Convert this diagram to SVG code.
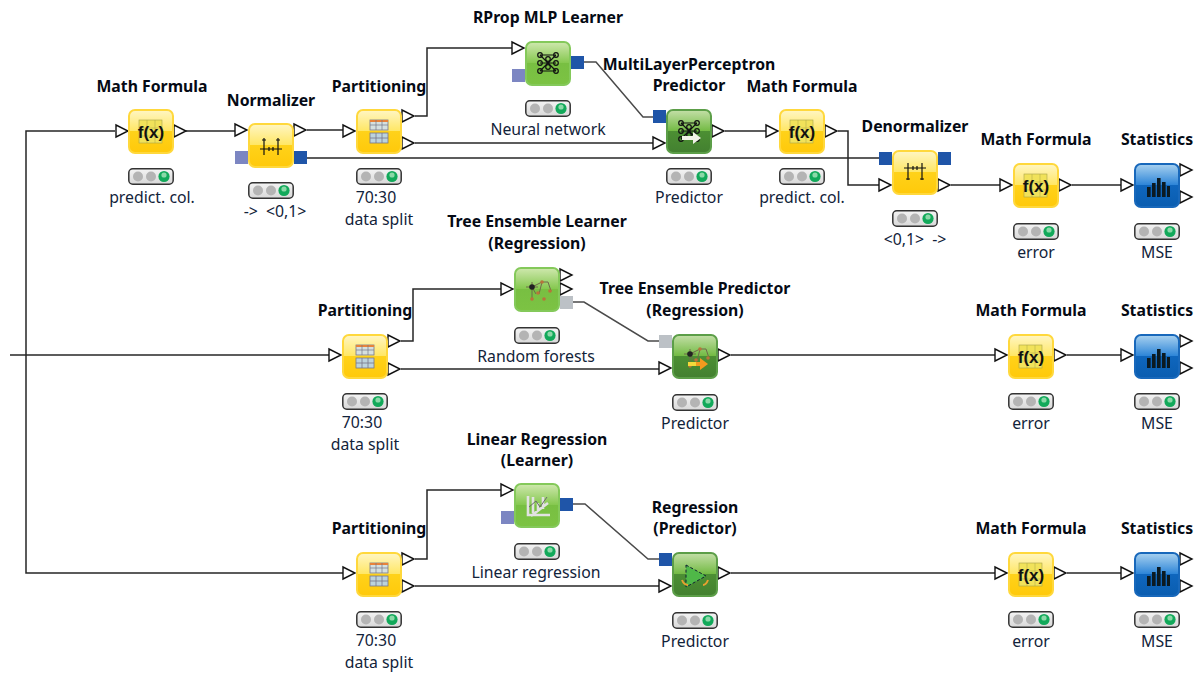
<svg xmlns="http://www.w3.org/2000/svg" width="1194" height="674" viewBox="0 0 1194 674">
<style>
text{font-family:"Noto Sans","Open Sans","Liberation Sans",sans-serif;text-anchor:middle;fill:#0c1420;font-size:15.8px}
.t{font-weight:700;font-size:15.8px;fill:#050a14}
.l{fill:#12233a}
#connectors path{fill:none;stroke:#262626;stroke-width:1.5}
#connectors path.s{stroke:#4a4a4a}
.p{fill:#fff;stroke:#111;stroke-width:1.4}
.lil{fill:#7c86c2}.blu{fill:#1f55a8}.gry{fill:#bcc1c6}
.ic{fill:none;stroke:#111;stroke-width:1.2}
</style>
<defs>
<linearGradient id="gy" x1="0" y1="0" x2="0" y2="1"><stop offset="0" stop-color="#fff6c4"/><stop offset=".48" stop-color="#ffe766"/><stop offset=".5" stop-color="#ffd21a"/><stop offset="1" stop-color="#ffc90a"/></linearGradient>
<linearGradient id="gg" x1="0" y1="0" x2="0" y2="1"><stop offset="0" stop-color="#cfe8ae"/><stop offset=".48" stop-color="#86c850"/><stop offset=".5" stop-color="#78bf42"/><stop offset="1" stop-color="#7cc343"/></linearGradient>
<linearGradient id="gd" x1="0" y1="0" x2="0" y2="1"><stop offset="0" stop-color="#c4dfa8"/><stop offset=".48" stop-color="#74bb45"/><stop offset=".5" stop-color="#4c8f33"/><stop offset="1" stop-color="#438030"/></linearGradient>
<linearGradient id="gb" x1="0" y1="0" x2="0" y2="1"><stop offset="0" stop-color="#a9d2f0"/><stop offset=".48" stop-color="#2f86d8"/><stop offset=".5" stop-color="#0f66bd"/><stop offset="1" stop-color="#0a5db0"/></linearGradient>
<linearGradient id="gl" x1="0" y1="0" x2="0" y2="1"><stop offset="0" stop-color="#f4f4f4"/><stop offset="1" stop-color="#d8d8d8"/></linearGradient>
<g id="by"><rect x="1" y="1" width="44" height="43" rx="6" fill="url(#gy)" stroke="#ffd83c" stroke-width="2"/></g>
<g id="bg"><rect x="1" y="1" width="44" height="43" rx="6" fill="url(#gg)" stroke="#84c95a" stroke-width="2"/></g>
<g id="bd"><rect x="1" y="1" width="44" height="43" rx="6" fill="url(#gd)" stroke="#5c9e48" stroke-width="2"/></g>
<g id="bb"><rect x="1" y="1" width="44" height="43" rx="6" fill="url(#gb)" stroke="#1868bb" stroke-width="2"/></g>
<g id="in"><path class="p" d="M0,-6V6L12,0Z"/></g>
<g id="lt"><rect x=".8" y=".8" width="44.4" height="15.4" rx="4" fill="url(#gl)" stroke="#333" stroke-width="1.5"/><circle cx="10" cy="8.5" r="5" fill="#b4b4b4"/><circle cx="23" cy="8.5" r="5" fill="#b4b4b4"/><circle cx="36" cy="8.5" r="5.6" fill="#12a95a"/><circle cx="36" cy="7" r="2.6" fill="#8bd9a8"/></g>
<g id="ifx"><rect x="11" y="11" width="23" height="23" fill="#f1e25a" stroke="#a9a44a" stroke-width=".6"/><path d="M19,11V34M27,11V34M11,19H34M11,27H34" stroke="#a9a44a" stroke-width=".5" fill="none"/><text x="23" y="29" style="font-family:'Liberation Sans',sans-serif;font-weight:700;font-size:17px;fill:#111">f(x)</text></g>
<g id="ipart"><rect x="14" y="11" width="18" height="10" fill="#d5e0e0" stroke="#778" stroke-width=".8"/><rect x="14" y="11" width="18" height="2" fill="#e8823a"/><path d="M20,11V21M26,11V21M14,16H32" stroke="#778" stroke-width=".7"/><rect x="14" y="24" width="18" height="10" fill="#bcd3dc" stroke="#778" stroke-width=".8"/><path d="M20,24V34M26,24V34M14,29H32" stroke="#778" stroke-width=".8"/></g>
<g id="inorm"><path class="ic" d="M12,26H34M16,21V32M30,21V32M21,24V28M25,24V28M16,21M30,21"/><path d="M14,17H18M28,17H32M16,15V21M30,15V21" class="ic"/></g>
<g id="idenorm"><path class="ic" d="M12,18H34M16,13V24M30,13V24M21,16V20M25,16V20"/><path d="M14,29H18M28,29H32M16,24V30M30,24V30" class="ic"/></g>
<g id="inn"><path class="ic" d="M15,14L31,14M15,14L23,22L31,14M15,22H31M15,30L23,22L31,30M15,30H31M15,14L31,30M15,30L31,14"/><g fill="none" stroke="#111" stroke-width="1.2"><circle cx="15" cy="14" r="2.3"/><circle cx="15" cy="22" r="2.3"/><circle cx="15" cy="30" r="2.3"/><circle cx="31" cy="14" r="2.3"/><circle cx="31" cy="22" r="2.3"/><circle cx="31" cy="30" r="2.3"/><circle cx="23" cy="18" r="2.3"/><circle cx="23" cy="26" r="2.3"/></g></g>
<g id="itree"><path d="M18,15V33M12,20H24M18,20L28,15H34L37,24M28,15L25,27M18,20L22,27" fill="none" stroke="#6f6a4a" stroke-width="1"/><circle cx="18" cy="20" r="2.8" fill="#222"/><circle cx="28" cy="15" r="1.8" fill="#b8743a"/><circle cx="36" cy="24" r="1.8" fill="#b8743a"/><circle cx="24" cy="26" r="1.8" fill="#b8743a"/><circle cx="18" cy="32" r="1.8" fill="#b8743a"/><circle cx="30" cy="32" r="1.8" fill="#b8743a"/></g>
<g id="ilin"><path d="M14,13V32H36M17,33L34,20M19,14V30M24,20V29M29,14V26" fill="none" stroke="#e2e2e2" stroke-width="2.6"/><path d="M15,24L22,18L26,24L33,14" fill="none" stroke="#6a6a6a" stroke-width="1"/></g>
<g id="ireg"><path d="M14,13L34,24L14,35Z" fill="#4fb848" stroke="#123" stroke-width="1" stroke-dasharray="3 2"/><path d="M10,28Q12,33 16,33M36,28Q34,33 31,33" fill="none" stroke="#e8a030" stroke-width="2"/></g>
<g id="istat"><rect x="13" y="24" width="3.6" height="10" fill="#0b1a22"/><rect x="18" y="20" width="3.6" height="14" fill="#0b1a22"/><rect x="23" y="15" width="3.6" height="19" fill="#0b1a22"/><rect x="28" y="19" width="3.6" height="15" fill="#0b1a22"/><rect x="33" y="23" width="3" height="11" fill="#0b1a22"/></g>
<g id="n-arr"><path d="M16,27H27V23L35,29L27,35V31H16Z" fill="#f2f2e8"/></g>
<g id="o-arr"><path d="M16,28H28V24L36,30L28,36V32H16Z" fill="#f39a1e"/><path d="M16,28H24V32H16Z" fill="#f4d93a"/></g>
</defs>

<g id="connectors">
<path d="M115,131H26V573H343"/>
<path d="M10,355H329"/>
<path d="M186,131H235"/><path d="M307,130H343"/>
<path d="M415,116H427V48H512"/><path d="M415,143H653"/>
<path d="M307,158H880"/>
<path class="s" d="M584,62H596L643,117H653"/>
<path d="M725,131H766"/>
<path d="M838,131H848V185H879"/>
<path d="M951,185H1000"/><path d="M1072,185H1121"/>
<path d="M401,341H413V289H501"/><path d="M401,369H659"/>
<path class="s" d="M572,302H584L648,341H659"/>
<path d="M731,355H995"/><path d="M1067,355H1121"/>
<path d="M415,559H427V490H501"/><path d="M415,586H659"/>
<path class="s" d="M573,504H585L648,559H659"/>
<path d="M731,573H995"/><path d="M1067,573H1121"/>
</g>

<g id="math1"><use href="#in" x="116" y="131"/><use href="#in" x="174" y="131"/><use href="#by" x="128" y="109"/><use href="#ifx" x="128" y="109"/><use href="#lt" x="128" y="168"/><text class="t" x="152" y="92">Math Formula</text><text class="l" x="152" y="203">predict. col.</text></g>
<g id="normalizer"><use href="#in" x="235" y="130"/><use href="#in" x="294" y="130"/><rect class="lil" x="235" y="151" width="13" height="13"/><rect class="blu" x="294" y="151" width="13" height="13"/><use href="#by" x="248" y="123"/><use href="#inorm" x="248" y="123"/><use href="#lt" x="248" y="182"/><text class="t" x="271" y="106">Normalizer</text><text class="l" x="275" y="217" xml:space="preserve">-&gt;  &lt;0,1&gt;</text></g>
<g id="part1"><use href="#in" x="343" y="131"/><use href="#in" x="402" y="116"/><use href="#in" x="402" y="143"/><use href="#by" x="356" y="109"/><use href="#ipart" x="356" y="109"/><use href="#lt" x="356" y="168"/><text class="t" x="379" y="92">Partitioning</text><text class="l" x="376" y="203">70:30</text><text class="l" x="379" y="225">data split</text></g>
<g id="mlp-learner"><use href="#in" x="512" y="48"/><rect class="lil" x="512" y="69" width="13" height="13"/><rect class="blu" x="571" y="56" width="13" height="13"/><use href="#bg" x="525" y="41"/><use href="#inn" x="525" y="41"/><use href="#lt" x="525" y="100"/><text class="t" x="548" y="23">RProp MLP Learner</text><text class="l" x="548" y="135">Neural network</text></g>
<g id="mlp-predictor"><rect class="blu" x="653" y="110" width="13" height="13"/><use href="#in" x="653" y="143"/><use href="#in" x="712" y="131"/><use href="#bd" x="666" y="109"/><use href="#inn" x="666" y="109"/><use href="#n-arr" x="666" y="109"/><use href="#lt" x="666" y="168"/><text class="t" x="689" y="70">MultiLayerPerceptron</text><text class="t" x="689" y="91">Predictor</text><text class="l" x="689" y="203">Predictor</text></g>
<g id="math2"><use href="#in" x="766" y="131"/><use href="#in" x="825" y="131"/><use href="#by" x="779" y="109"/><use href="#ifx" x="779" y="109"/><use href="#lt" x="779" y="168"/><text class="t" x="802" y="92">Math Formula</text><text class="l" x="802" y="203">predict. col.</text></g>
<g id="denormalizer"><rect class="blu" x="879" y="152" width="13" height="13"/><use href="#in" x="879" y="185"/><rect class="blu" x="938" y="152" width="13" height="13"/><use href="#in" x="938" y="185"/><use href="#by" x="892" y="150"/><use href="#idenorm" x="892" y="150"/><use href="#lt" x="892" y="210"/><text class="t" x="915" y="132">Denormalizer</text><text class="l" x="915" y="245" xml:space="preserve">&lt;0,1&gt;  -&gt;</text></g>
<g id="math3"><use href="#in" x="1000" y="185"/><use href="#in" x="1059" y="185"/><use href="#by" x="1013" y="163"/><use href="#ifx" x="1013" y="163"/><use href="#lt" x="1013" y="223"/><text class="t" x="1036" y="145">Math Formula</text><text class="l" x="1036" y="258">error</text></g>
<g id="stats1"><use href="#in" x="1121" y="185"/><use href="#in" x="1180" y="170"/><use href="#in" x="1180" y="197"/><use href="#bb" x="1134" y="163"/><use href="#istat" x="1134" y="163"/><use href="#lt" x="1134" y="223"/><text class="t" x="1157" y="145">Statistics</text><text class="l" x="1157" y="258">MSE</text></g>

<g id="part2"><use href="#in" x="329" y="355"/><use href="#in" x="388" y="341"/><use href="#in" x="388" y="369"/><use href="#by" x="342" y="334"/><use href="#ipart" x="342" y="334"/><use href="#lt" x="342" y="393"/><text class="t" x="365" y="316">Partitioning</text><text class="l" x="362" y="428">70:30</text><text class="l" x="365" y="450">data split</text></g>
<g id="tree-learner"><use href="#in" x="501" y="289"/><use href="#in" x="560" y="275"/><use href="#in" x="560" y="289"/><rect class="gry" x="560" y="296" width="13" height="13"/><use href="#bg" x="514" y="267"/><use href="#itree" x="514" y="267"/><use href="#lt" x="514" y="327"/><text class="t" x="537" y="227">Tree Ensemble Learner</text><text class="t" x="537" y="249">(Regression)</text><text class="l" x="536" y="362">Random forests</text></g>
<g id="tree-predictor"><rect class="gry" x="659" y="335" width="13" height="13"/><use href="#in" x="659" y="368"/><use href="#in" x="718" y="355"/><use href="#bd" x="672" y="334"/><use href="#itree" x="672" y="334"/><use href="#o-arr" x="672" y="334"/><use href="#lt" x="672" y="394"/><text class="t" x="695" y="294">Tree Ensemble Predictor</text><text class="t" x="695" y="316">(Regression)</text><text class="l" x="695" y="429">Predictor</text></g>
<g id="math4"><use href="#in" x="995" y="355"/><use href="#in" x="1054" y="355"/><use href="#by" x="1008" y="334"/><use href="#ifx" x="1008" y="334"/><use href="#lt" x="1008" y="393"/><text class="t" x="1031" y="316">Math Formula</text><text class="l" x="1031" y="429">error</text></g>
<g id="stats2"><use href="#in" x="1121" y="355"/><use href="#in" x="1180" y="341"/><use href="#in" x="1180" y="368"/><use href="#bb" x="1134" y="334"/><use href="#istat" x="1134" y="334"/><use href="#lt" x="1134" y="393"/><text class="t" x="1157" y="316">Statistics</text><text class="l" x="1157" y="429">MSE</text></g>

<g id="part3"><use href="#in" x="343" y="573"/><use href="#in" x="402" y="559"/><use href="#in" x="402" y="586"/><use href="#by" x="356" y="552"/><use href="#ipart" x="356" y="552"/><use href="#lt" x="356" y="611"/><text class="t" x="379" y="534">Partitioning</text><text class="l" x="376" y="646">70:30</text><text class="l" x="379" y="668">data split</text></g>
<g id="lin-learner"><use href="#in" x="501" y="490"/><rect class="lil" x="501" y="511" width="13" height="13"/><rect class="blu" x="560" y="498" width="13" height="13"/><use href="#bg" x="514" y="483"/><use href="#ilin" x="514" y="483"/><use href="#lt" x="514" y="543"/><text class="t" x="537" y="445">Linear Regression</text><text class="t" x="537" y="466">(Learner)</text><text class="l" x="536" y="578">Linear regression</text></g>
<g id="lin-predictor"><rect class="blu" x="659" y="553" width="13" height="13"/><use href="#in" x="659" y="586"/><use href="#in" x="718" y="573"/><use href="#bd" x="672" y="552"/><use href="#ireg" x="672" y="552"/><use href="#lt" x="672" y="612"/><text class="t" x="695" y="513">Regression</text><text class="t" x="695" y="534">(Predictor)</text><text class="l" x="695" y="647">Predictor</text></g>
<g id="math5"><use href="#in" x="995" y="573"/><use href="#in" x="1054" y="573"/><use href="#by" x="1008" y="552"/><use href="#ifx" x="1008" y="552"/><use href="#lt" x="1008" y="611"/><text class="t" x="1031" y="534">Math Formula</text><text class="l" x="1031" y="647">error</text></g>
<g id="stats3"><use href="#in" x="1121" y="573"/><use href="#in" x="1180" y="559"/><use href="#in" x="1180" y="586"/><use href="#bb" x="1134" y="552"/><use href="#istat" x="1134" y="552"/><use href="#lt" x="1134" y="611"/><text class="t" x="1157" y="534">Statistics</text><text class="l" x="1157" y="647">MSE</text></g>
</svg>
